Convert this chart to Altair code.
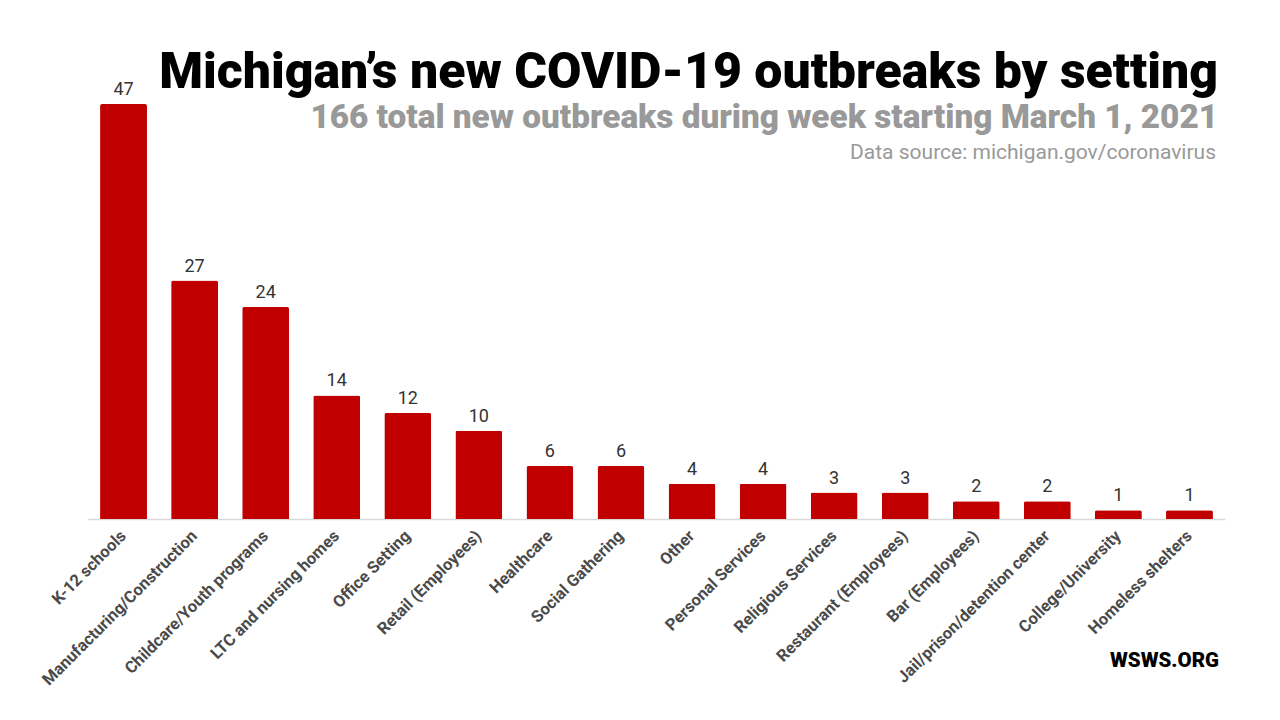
import altair as alt
import pandas as pd

categories = ["K-12 schools", "Manufacturing/Construction", "Childcare/Youth programs",
              "LTC and nursing homes", "Office Setting", "Retail (Employees)", "Healthcare",
              "Social Gathering", "Other", "Personal Services", "Religious Services",
              "Restaurant (Employees)", "Bar (Employees)", "Jail/prison/detention center",
              "College/University", "Homeless shelters"]
values = [47, 27, 24, 14, 12, 10, 6, 6, 4, 4, 3, 3, 2, 2, 1, 1]

title_text = "Michigan’s new COVID-19 outbreaks by setting"
subtitle_text = "166 total new outbreaks during week starting March 1, 2021"
source_text = "Data source: michigan.gov/coronavirus"
brand_text = "WSWS.ORG"

df = pd.DataFrame({"setting": categories, "count": values})

W, H = 1137, 415
FONT = "Roboto"

x = alt.X("setting:N", sort=categories, title=None,
          scale=alt.Scale(paddingInner=0.34, paddingOuter=0.17),
          axis=alt.Axis(labelAngle=-45, labelAlign="right", labelBaseline="middle",
                        labelFontSize=16.5, labelColor="#4a4a4a", labelFont=FONT,
                        labelFontWeight="bold", labelPadding=14, ticks=False,
                        domainColor="#d9d9d9", domainWidth=1.5, labelLimit=400))
y = alt.Y("count:Q", title=None, scale=alt.Scale(domain=[0, 47], nice=False),
          axis=None)

base = alt.Chart(df)
bars = base.mark_bar(color="#c00000", cornerRadiusTopLeft=2, cornerRadiusTopRight=2).encode(x=x, y=y)
labels = base.mark_text(dy=-9, baseline="alphabetic", fontSize=18, font=FONT,
                        color="#333333").encode(x=x, y=y, text="count:Q")

def txt(t, xv, yv, size, weight, color):
    return alt.Chart(pd.DataFrame({"t": [t]})).mark_text(
        align="right", baseline="alphabetic", fontSize=size, fontWeight=weight,
        font=FONT, color=color).encode(x=alt.value(xv), y=alt.value(yv), text="t:N")

t1 = txt(title_text, 1130, -16, 50, 900, "#000000")
t2 = txt(subtitle_text, 1130, 24, 33.3, 900, "#999999")
t3 = txt(source_text, 1128, 55, 21, "normal", "#999999")
t4 = txt(brand_text, 1131, 563, 20.5, 900, "#000000")

chart = alt.layer(bars, labels, t1, t2, t3, t4).properties(
    width=W, height=H,
    background="white",
    autosize=alt.AutoSizeParams(type="none"),
    padding={"left": 80, "top": 96, "right": 40, "bottom": 190},
).configure_view(strokeWidth=0, stroke="transparent")

chart.save("out.html", embed_options={"renderer": "svg", "actions": False})
